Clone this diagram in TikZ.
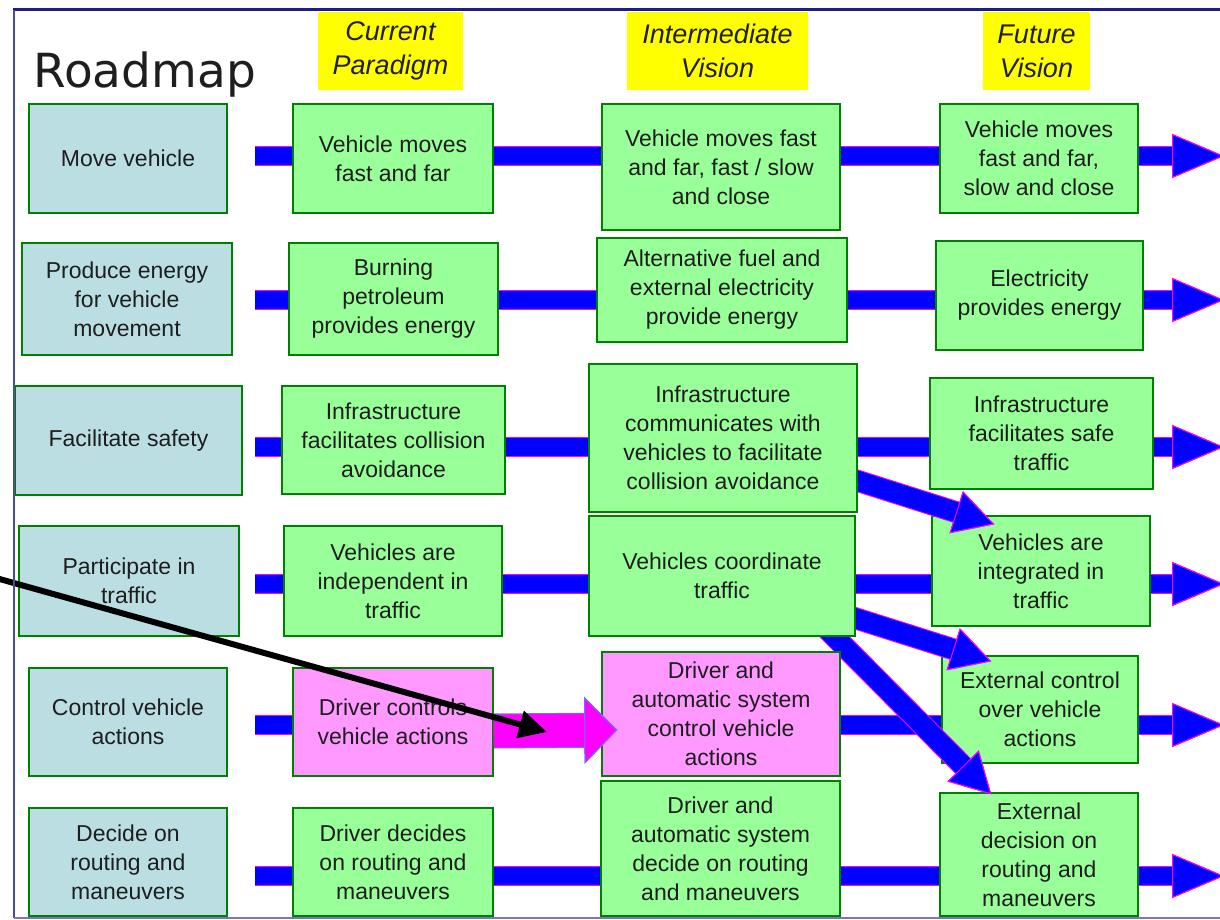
\documentclass[tikz,border=0pt]{standalone}
\usepackage{fontspec}
\setmainfont{Liberation Sans}
\newfontfamily\titlefont{DejaVu Sans}
\usetikzlibrary{arrows.meta}
\definecolor{goalblue}{RGB}{187,222,226}
\definecolor{stagegreen}{RGB}{153,255,153}
\definecolor{changepink}{RGB}{255,153,255}
\definecolor{edgegreen}{RGB}{0,128,0}
\definecolor{inkgray}{RGB}{30,30,30}
\definecolor{rimblue}{RGB}{30,30,130}
\definecolor{glow}{RGB}{255,0,255}
\definecolor{pureblue}{RGB}{0,0,255}
\definecolor{headyellow}{RGB}{255,255,0}
\definecolor{slate}{RGB}{110,110,255}
\pgfdeclarelayer{back}
\pgfdeclarelayer{over}
\pgfdeclarelayer{top}
\pgfdeclarelayer{front}
\pgfsetlayers{back,main,over,top,front}
\begin{document}
\begin{tikzpicture}[x=1pt, y=-1pt,
        box/.style 2 args={draw=edgegreen, line width=1.4pt, minimum width=#1pt, minimum height=#2pt, inner sep=0pt, align=center, text=inkgray, font=\fontsize{23}{29}\selectfont},
        goal/.style={fill=goalblue},
        stage/.style={fill=stagegreen},
        change/.style={fill=changepink},
        hdr/.style 2 args={fill=headyellow, minimum width=#1pt, minimum height=#2pt, inner sep=0pt, align=center, text=inkgray, font=\fontsize{27}{34}\selectfont\itshape},
        flow/.style={draw=pureblue, line width=18pt, -{Triangle[length=52pt, width=44pt, line width=1pt, color=glow, fill=pureblue]}, preaction={draw=glow, line width=20pt}},
        jump/.style={draw=pureblue, line width=20pt, -{Triangle[length=40pt, width=44pt, line width=1pt, color=glow, fill=pureblue]}, preaction={draw=glow, line width=22pt}},
        push/.style={draw=glow, line width=33pt, -{Triangle[length=33pt, width=67pt, line width=1pt, color=slate, fill=glow]}, preaction={draw=slate, line width=35pt}},
        pointer/.style={draw=black, line width=6pt, -{Triangle[length=28pt, width=27pt]}}
    ]
        \useasboundingbox (0,0) rectangle (1220,920);

        % title and column heads
        \node[anchor=base west, font=\titlefont\fontsize{47}{50}\selectfont, text=inkgray] (title) at (30,88) {Roadmap};
        \node[hdr={145}{78}] (H1) at (390.5,51) {Current\\Paradigm};
        \node[hdr={181}{78}] (H2) at (717.5,51) {Intermediate\\Vision};
        \node[hdr={107}{78}] (H3) at (1036.5,51) {Future\\Vision};

        % functions
        \node[box={198}{109}, goal] (L1) at (128,158.5) {Move vehicle};
        \node[box={210}{112}, goal] (L2) at (127,299) {Produce energy\\for vehicle\\movement};
        \node[box={227}{109}, goal] (L3) at (128.5,440.5) {Facilitate safety};
        \node[box={220}{110}, goal] (L4) at (129,581) {Participate in\\traffic};
        \node[box={198}{108}, goal] (L5) at (128,722) {Control vehicle\\actions};
        \node[box={198}{108}, goal] (L6) at (128,862) {Decide on\\routing and\\maneuvers};

        % current paradigm
        \node[box={200}{109}, stage] (C1) at (393,158.5) {Vehicle moves\\fast and far};
        \node[box={209}{112}, stage] (C2) at (393.5,299) {Burning\\petroleum\\provides energy};
        \node[box={223}{108}, stage] (C3) at (393.5,440) {Infrastructure\\facilitates collision\\avoidance};
        \node[box={218}{110}, stage] (C4) at (393,581) {Vehicles are\\independent in\\traffic};
        \node[box={200}{108}, change] (C5) at (393,722) {Driver controls\\vehicle actions};
        \node[box={200}{108}, stage] (C6) at (393,862) {Driver decides\\on routing and\\maneuvers};

        % intermediate vision
        \begin{pgfonlayer}{top}
        \node[box={238}{126}, stage] (I1) at (721,167) {Vehicle moves fast\\and far, fast / slow\\and close};
        \node[box={250}{104}, stage] (I2) at (722,290) {Alternative fuel and\\external electricity\\provide energy};
        \node[box={268}{148}, stage] (I3) at (723,438) {Infrastructure\\communicates with\\vehicles to facilitate\\collision avoidance};
        \node[box={266}{120}, stage] (I4) at (722,576) {Vehicles coordinate\\traffic};
        \node[box={238}{124}, change] (I5) at (721,714) {Driver and\\automatic system\\control vehicle\\actions};
        \node[box={239}{135}, stage] (I6) at (720.5,848.5) {Driver and\\automatic system\\decide on routing\\and maneuvers};
        \end{pgfonlayer}

        % future vision
        \node[box={198}{109}, stage] (F1) at (1039,158.5) {Vehicle moves\\fast and far,\\slow and close};
        \node[box={207}{109}, stage] (F2) at (1039.5,295.5) {Electricity\\provides energy};
        \node[box={223}{111}, stage] (F3) at (1041.5,433.5) {Infrastructure\\facilitates safe\\traffic};
        \node[box={218}{110}, stage] (F4) at (1041,571) {Vehicles are\\integrated in\\traffic};
        \node[box={196}{107}, stage] (F5) at (1040,709.5) {External control\\over vehicle\\actions};
        \node[box={198}{123}, stage] (F6) at (1039,854.5) {External\\decision on\\routing and\\maneuvers};

        % rows
        \begin{pgfonlayer}{back}
        \foreach \r/\y in {1/156, 2/300, 3/447, 4/584, 5/725, 6/876} {
            \coordinate (s\r) at (255,\y);
            \coordinate (e\r) at (1224,\y);
            \draw[flow] (s\r) -- (e\r);
        }
        \end{pgfonlayer}

        % branches
        \begin{pgfonlayer}{over}
        \draw[jump] (I3.center) -- ([shift={(63,9)}]F4.north west);
        \draw[jump] (I4.center) -- ([shift={(50,6)}]F5.north west);
        \draw[jump] ([shift={(-45,-24)}]I4.south east) -- ([shift={(52,2)}]F6.north west);
        \end{pgfonlayer}

        \begin{pgfonlayer}{front}
        \draw[push] ([yshift=-9pt]C5.east) -- ([shift={(16,16)}]I5.west);
        \coordinate (p0) at (-4,578);
        \coordinate (p1) at (547,732);
        \draw[pointer] (p0) -- (p1);
        % frame
        \draw[rimblue, line width=3pt] (13,10) -- (1240,10);
        \draw[rimblue!80, line width=2pt] (14,10) -- (14,918);
        \draw[rimblue!60, line width=1.5pt] (14,918) -- (1240,918);
        \end{pgfonlayer}
    \end{tikzpicture}
\end{document}
